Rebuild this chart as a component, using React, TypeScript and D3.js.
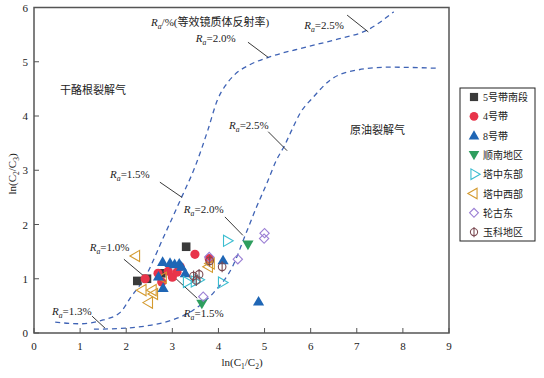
import React from "react";
import * as d3 from "d3";

// ---------- data ----------
const xTicks = [0, 1, 2, 3, 4, 5, 6, 7, 8, 9];
const yTicks = [0, 1, 2, 3, 4, 5, 6];

const seriesNames = ["5号带南段", "4号带", "8号带", "顺南地区", "塔中东部", "塔中西部", "轮古东", "玉科地区"];

const zone5South: [number, number][] = [[2.24, 0.96], [2.45, 1.0], [3.3, 1.59], [2.76, 1.1]];
const zone4: [number, number][] = [[2.41, 1.0], [3.49, 1.45], [3.8, 1.37], [2.69, 1.1], [2.91, 1.14], [3.0, 1.03], [3.17, 1.22], [3.1, 1.12], [2.77, 0.94]];
const zone8: [number, number][] = [[2.79, 1.31], [2.95, 1.29], [3.05, 1.27], [3.15, 1.28], [3.2, 1.22], [2.7, 1.04], [2.8, 0.83], [3.28, 1.1], [4.1, 1.34], [4.87, 0.58]];
const shunnan: [number, number][] = [[3.64, 0.54], [4.64, 1.63]];
const tzEast: [number, number][] = [[4.18, 1.7], [4.07, 0.93], [3.31, 0.94], [3.56, 0.98], [3.48, 0.95]];
const tzWest: [number, number][] = [[2.22, 1.42], [2.36, 0.79], [2.58, 0.79], [2.61, 0.72], [2.5, 0.56], [3.8, 1.22], [3.84, 1.28], [2.8, 1.02]];
const lungudong: [number, number][] = [[3.8, 1.4], [4.42, 1.36], [3.67, 0.67], [5.0, 1.84], [4.99, 1.74]];
const yuke: [number, number][] = [[3.46, 1.05], [3.58, 1.08], [3.52, 0.97], [4.08, 1.22], [3.81, 1.33]];

const curveLeft: [number, number][] = [[0.46, 0.2], [1.0, 0.17], [1.5, 0.24], [1.87, 0.38], [2.1, 0.66], [2.41, 1.03], [2.8, 1.75], [3.2, 2.5], [3.5, 3.08], [3.77, 3.74], [3.98, 4.3], [4.15, 4.56], [4.35, 4.76], [4.69, 4.95], [5.08, 5.08], [5.9, 5.27], [6.6, 5.42], [7.22, 5.58], [7.8, 5.92]];
const curveRight: [number, number][] = [[1.3, 0.07], [2.0, 0.09], [2.5, 0.14], [3.0, 0.24], [3.45, 0.42], [3.9, 0.75], [4.32, 1.25], [4.58, 1.8], [4.83, 2.33], [5.05, 2.76], [5.26, 3.19], [5.43, 3.45], [5.59, 3.74], [5.77, 4.05], [6.06, 4.35], [6.42, 4.66], [6.85, 4.82], [7.7, 4.9], [8.75, 4.88]];

// leader lines: [x1, y1, x2, y2] in data units
const leaders: [number, number, number, number][] = [
  [1.95, 1.36, 2.41, 1.03],
  [2.73, 2.78, 3.21, 2.5],
  [4.64, 5.36, 5.08, 5.08],
  [6.79, 5.86, 7.25, 5.55],
  [1.26, 0.31, 1.54, 0.09],
  [2.99, 1.07, 3.54, 0.64],
  [4.14, 2.14, 4.53, 1.8],
  [5.08, 3.71, 5.49, 3.36],
];
// Ra labels: [x, y(baseline), value]
const raLabels: [number, number, string][] = [
  [1.21, 1.51, "=1.0%"],
  [1.65, 2.85, "=1.5%"],
  [3.51, 5.36, "=2.0%"],
  [5.86, 5.6, "=2.5%"],
  [4.23, 3.76, "=2.5%"],
  [3.25, 2.21, "=2.0%"],
  [3.25, 0.29, "=1.5%"],
  [0.39, 0.33, "=1.3%"],
];

const COLORS = ["#3a3a3a", "#e8344a", "#1f66b5", "#2e9e5e", "#3bbdd0", "#d49a2e", "#9b7fd4", "#7b4a52"];

const W = 544, H = 378;
const FONT = "'Times New Roman', 'Liberation Serif', 'Noto Sans CJK SC', serif";

const x = d3.scaleLinear().domain([0, 9]).range([34, 449]);
const y = d3.scaleLinear().domain([0, 6]).range([333, 7.5]);

type Kind = "square" | "circle" | "up" | "down" | "right" | "left" | "diamond" | "phi";
const kinds: Kind[] = ["square", "circle", "up", "down", "right", "left", "diamond", "phi"];
const allSeries = [zone5South, zone4, zone8, shunnan, tzEast, tzWest, lungudong, yuke];
const drawOrder = [0, 1, 5, 2, 3, 4, 6, 7];

function Marker({ kind, cx, cy, color, s = 1 }: { kind: Kind; cx: number; cy: number; color: string; s?: number }) {
  const tri = d3.symbol().type(d3.symbolTriangle).size(54 * s * s)()!;
  switch (kind) {
    case "square":
      return <rect x={cx - 4.3 * s} y={cy - 4.3 * s} width={8.6 * s} height={8.6 * s} fill={color} />;
    case "circle":
      return <circle cx={cx} cy={cy} r={4.6 * s} fill={color} />;
    case "up":
      return <path d={tri} transform={`translate(${cx},${cy + 0.8})`} fill={color} />;
    case "down":
      return <path d={tri} transform={`translate(${cx},${cy - 0.8}) rotate(180)`} fill={color} />;
    case "right":
      return <path d={tri} transform={`translate(${cx},${cy}) rotate(90)`} fill="none" stroke={color} strokeWidth={1.1} />;
    case "left":
      return <path d={tri} transform={`translate(${cx},${cy}) rotate(-90)`} fill="none" stroke={color} strokeWidth={1.1} />;
    case "diamond":
      return <rect x={cx - 3.3 * s} y={cy - 3.3 * s} width={6.6 * s} height={6.6 * s} transform={`rotate(45,${cx},${cy})`} fill="none" stroke={color} strokeWidth={1.1} />;
    case "phi":
      return (
        <g fill="none" stroke={color} strokeWidth={1.1}>
          <circle cx={cx} cy={cy} r={3.8 * s} />
          <line x1={cx} x2={cx} y1={cy - 5.5 * s} y2={cy + 5.5 * s} />
        </g>
      );
  }
}

function RaText({ px, py, rest, size = 11 }: { px: number; py: number; rest: string; size?: number }) {
  return (
    <text x={px} y={py} fontSize={size} fontFamily={FONT} fill="#222">
      <tspan fontStyle="italic">R</tspan>
      <tspan fontStyle="italic" fontSize={size * 0.7} dy={2.5}>a</tspan>
      <tspan dy={-2.5}>{rest}</tspan>
    </text>
  );
}

export default function App() {
  const line = d3.line<[number, number]>().x(d => x(d[0])).y(d => y(d[1])).curve(d3.curveMonotoneX);
  const legendY0 = 97, legendStep = 19.3;
  return (
    <svg width={W} height={H} style={{ position: "absolute", left: 0, top: 0 }} fontFamily={FONT}>
      <rect width={W} height={H} fill="#fff" />
      {/* curves */}
      {[curveLeft, curveRight].map((c, i) => (
        <path key={i} d={line(c)!} fill="none" stroke="#3f63b5" strokeWidth={1.3} strokeDasharray="5,4" />
      ))}
      {/* leaders */}
      {leaders.map((l, i) => (
        <line key={i} x1={x(l[0])} y1={y(l[1])} x2={x(l[2])} y2={y(l[3])} stroke="#222" strokeWidth={0.9} />
      ))}
      {raLabels.map((l, i) => (
        <RaText key={i} px={x(l[0])} py={y(l[1])} rest={l[2]} />
      ))}
      {/* title */}
      <text x={151} y={26} fontSize={11} fill="#222">
        <tspan fontStyle="italic">R</tspan>
        <tspan fontStyle="italic" fontSize={7.7} dy={2.5}>a</tspan>
        <tspan dy={-2.5}>/%(等效镜质体反射率)</tspan>
      </text>
      <text x={60} y={94} fontSize={11} fill="#222">干酪根裂解气</text>
      <text x={350} y={134} fontSize={11} fill="#222">原油裂解气</text>
      {/* points */}
      {drawOrder.map(si => (
        <g key={si}>
          {allSeries[si].map((p, j) => (
            <Marker key={j} kind={kinds[si]} cx={x(p[0])} cy={y(p[1])} color={COLORS[si]} />
          ))}
        </g>
      ))}
      {/* frame */}
      <rect x={x(0)} y={y(6)} width={x(9) - x(0)} height={y(0) - y(6)} fill="none" stroke="#555" strokeWidth={1.5} />
      {xTicks.map(t => (
        <g key={t}>
          <line x1={x(t)} x2={x(t)} y1={y(0)} y2={y(0) - 5} stroke="#555" strokeWidth={1} />
          <text x={x(t)} y={350} fontSize={11} textAnchor="middle" fill="#222">{t}</text>
        </g>
      ))}
      {yTicks.map(t => (
        <g key={t}>
          <line x1={x(0)} x2={x(0) + 5} y1={y(t)} y2={y(t)} stroke="#555" strokeWidth={1} />
          <text x={28} y={y(t) + 4} fontSize={11} textAnchor="end" fill="#222">{t}</text>
        </g>
      ))}
      {/* axis labels */}
      <text x={242} y={366} fontSize={11} textAnchor="middle" fill="#222">
        ln(C<tspan fontSize={7.5} dy={2.5}>1</tspan><tspan dy={-2.5}>/C</tspan><tspan fontSize={7.5} dy={2.5}>2</tspan><tspan dy={-2.5}>)</tspan>
      </text>
      <text transform="translate(16,174) rotate(-90)" fontSize={11} textAnchor="middle" fill="#222">
        ln(C<tspan fontSize={7.5} dy={2.5}>2</tspan><tspan dy={-2.5}>/C</tspan><tspan fontSize={7.5} dy={2.5}>3</tspan><tspan dy={-2.5}>)</tspan>
      </text>
      {/* legend */}
      <rect x={460} y={88} width={75} height={153} fill="#fff" stroke="#222" strokeWidth={1} />
      {seriesNames.map((n, i) => (
        <g key={n}>
          <Marker kind={kinds[i]} cx={474} cy={legendY0 + i * legendStep} color={COLORS[i]} s={0.95} />
          <text x={483} y={legendY0 + i * legendStep + 4} fontSize={10} fill="#222">{n}</text>
        </g>
      ))}
    </svg>
  );
}
